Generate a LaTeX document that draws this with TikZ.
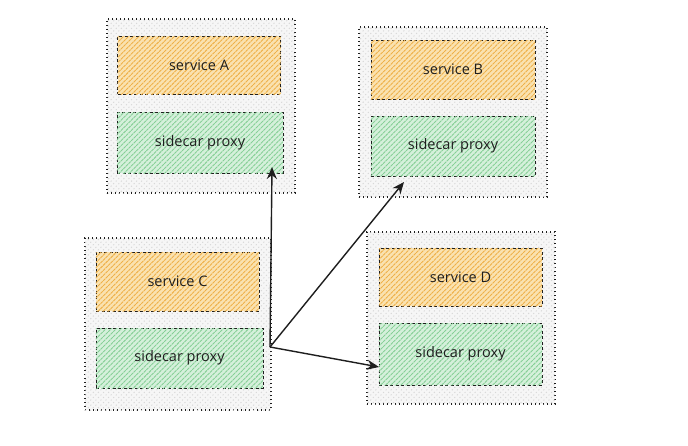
\documentclass[tikz,border=0pt]{standalone}
\usepackage{fontspec}
\setmainfont{Open Sans}
\usetikzlibrary{patterns.meta,arrows.meta}
\definecolor{ink}{HTML}{1E1E1E}
\definecolor{orfill}{HTML}{FAE2B0}
\definecolor{orline}{HTML}{EEB048}
\definecolor{grfill}{HTML}{D5F0DB}
\definecolor{grline}{HTML}{86CF96}
\definecolor{gyfill}{HTML}{F6F6F6}
\definecolor{gyline}{HTML}{D8D8D8}
\tikzset{
  hatch/.style={postaction={pattern={Lines[angle=45,distance=3.6pt,line width=0.9pt]}, pattern color=#1}},
  host/.style={draw=ink, line width=1.1pt, dash pattern=on 1.2pt off 2.8pt,
    fill=gyfill, hatch=gyline, inner sep=0pt},
  svc/.style={draw=ink, line width=1pt, dash pattern=on 3pt off 2.5pt,
    fill=orfill, hatch=orline,
    inner sep=0pt, font=\fontsize{14.5}{16}\selectfont, text=ink},
  prx/.style={draw=ink, line width=1pt, dash pattern=on 3pt off 2.5pt,
    fill=grfill, hatch=grline,
    inner sep=0pt, font=\fontsize{14.5}{16}\selectfont, text=ink},
  link/.style={draw=ink, line width=1.4pt, -{Stealth[length=12pt,width=10pt]}}
}
\begin{document}
\begin{tikzpicture}[x=1pt,y=-1pt]
\useasboundingbox[fill=white] (0,0) rectangle (688,445);
% hosts
\node[host, minimum width=188pt, minimum height=174pt] (hA) at (201,106) {};
\node[host, minimum width=188pt, minimum height=170pt] (hB) at (453,112) {};
\node[host, minimum width=186pt, minimum height=172pt] (hC) at (178,324) {};
\node[host, minimum width=188pt, minimum height=172pt] (hD) at (461,318) {};
% services
\node[svc, minimum width=163pt, minimum height=58pt] (sA) at (199,65) {service A};
\node[prx, minimum width=166pt, minimum height=61pt] (pA) at (200,142.5) {sidecar proxy};
\node[svc, minimum width=164pt, minimum height=59pt] (sB) at (453,69.5) {service B};
\node[prx, minimum width=164pt, minimum height=60pt] (pB) at (453,146) {sidecar proxy};
\node[svc, minimum width=163pt, minimum height=59pt] (sC) at (177.5,281.5) {service C};
\node[prx, minimum width=167pt, minimum height=60pt] (pC) at (179.5,358) {sidecar proxy};
\node[svc, minimum width=163pt, minimum height=58pt] (sD) at (460.5,277) {service D};
\node[prx, minimum width=163pt, minimum height=62pt] (pD) at (460.5,354) {sidecar proxy};
% connectors
\coordinate (o) at (270,347);
\coordinate (tA) at (272,167);
\coordinate (tB) at (404,182);
\coordinate (tD) at (379,367);
\draw[link] (o) -- (tA);
\draw[link] (o) -- (tB);
\draw[link] (o) -- (tD);
\end{tikzpicture}
\end{document}
